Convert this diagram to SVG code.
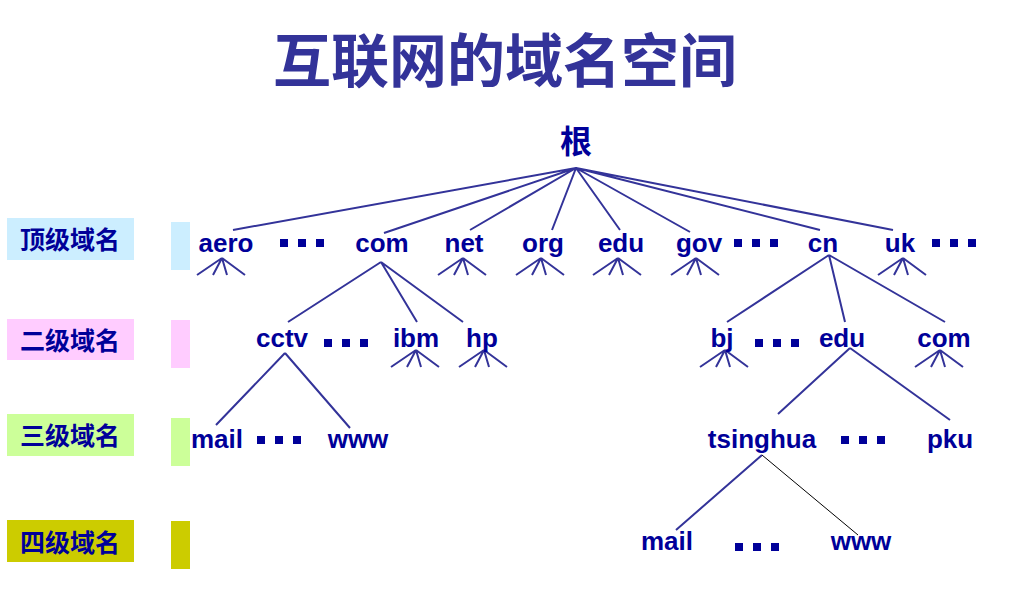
<svg xmlns="http://www.w3.org/2000/svg" width="1021" height="601" viewBox="0 0 1021 601">
<style>
.t{font-family:"Liberation Sans",Arial,sans-serif;font-weight:bold;font-size:26px;fill:#000099;text-anchor:middle}
.c{font-family:"Noto Sans CJK SC",sans-serif;font-weight:bold;font-size:25px;fill:#000099;text-anchor:middle}
.l path{stroke:#333399;stroke-width:2;fill:none}
.d{fill:#000099}
</style>
<defs>
<path id="fan" d="M0,0 L-25,17 M0,0 L-9,17 M0,0 L5,17 M0,0 L23,17" stroke="#333399" stroke-width="2" fill="none"/>
<g id="dots"><rect x="0" y="0" width="8" height="8"/><rect x="18" y="0" width="8" height="8"/><rect x="36" y="0" width="8" height="8"/></g>
</defs>
<rect width="1021" height="601" fill="#fff"/>
<text x="505" y="82" style="font-family:'Noto Sans CJK SC',sans-serif;font-weight:bold;font-size:58px;fill:#333399;text-anchor:middle">互联网的域名空间</text>
<g id="legend">
<rect x="7" y="218" width="127" height="42" fill="#cceeff"/><text class="c" x="70" y="249">顶级域名</text>
<rect x="7" y="319" width="127" height="41" fill="#ffccff"/><text class="c" x="70" y="350">二级域名</text>
<rect x="7" y="414" width="127" height="42" fill="#ccff99"/><text class="c" x="70" y="445">三级域名</text>
<rect x="7" y="520" width="127" height="42" fill="#cccc00"/><text class="c" x="70" y="552">四级域名</text>
<rect x="171" y="222" width="19" height="48" fill="#cceeff"/>
<rect x="171" y="320" width="19" height="48" fill="#ffccff"/>
<rect x="171" y="418" width="19" height="48" fill="#ccff99"/>
<rect x="171" y="521" width="19" height="48" fill="#cccc00"/>
</g>
<g id="connectors" class="l">
<path d="M576,168 L233,230 M576,168 L384,233 M576,168 L470,230 M576,168 L552,230 M576,168 L620,230 M576,168 L690,232 M576,168 L820,230 M576,168 L893,230"/>
<use href="#fan" x="222" y="258"/><use href="#fan" x="463" y="258"/><use href="#fan" x="541" y="258"/><use href="#fan" x="618" y="258"/><use href="#fan" x="696" y="258"/><use href="#fan" x="903" y="258"/>
<use href="#fan" x="416" y="350"/><use href="#fan" x="484" y="350"/><use href="#fan" x="725" y="350"/><use href="#fan" x="940" y="350"/>
<path d="M381,262 L288,322 M381,262 L417,322 M381,262 L463,322 M829,255 L727,322 M829,255 L845,322 M829,255 L945,322 M285,353 L216,425 M285,353 L350,428 M850,348 L778,414 M850,348 L950,420 M762,455 L676,530"/>
<line x1="762" y1="455" x2="858" y2="535" stroke="#000" stroke-width="1"/>
</g>
<g class="d">
<use href="#dots" x="280" y="239"/><use href="#dots" x="734" y="239"/><use href="#dots" x="932" y="239"/>
<use href="#dots" x="324" y="339"/><use href="#dots" x="755" y="339"/>
<use href="#dots" x="257" y="436"/><use href="#dots" x="841" y="436"/>
<use href="#dots" x="735" y="543"/>
</g>
<g id="n-root"><text class="c" x="576" y="153" style="font-size:32px">根</text></g>
<g id="n-aero"><text class="t" x="226" y="252">aero</text></g>
<g id="n-com"><text class="t" x="382" y="252">com</text></g>
<g id="n-net"><text class="t" x="464" y="252">net</text></g>
<g id="n-org"><text class="t" x="543" y="252">org</text></g>
<g id="n-edu"><text class="t" x="621" y="252">edu</text></g>
<g id="n-gov"><text class="t" x="699" y="252">gov</text></g>
<g id="n-cn"><text class="t" x="823" y="252">cn</text></g>
<g id="n-uk"><text class="t" x="900" y="252">uk</text></g>
<g id="n-cctv"><text class="t" x="282" y="347">cctv</text></g>
<g id="n-ibm"><text class="t" x="416" y="347">ibm</text></g>
<g id="n-hp"><text class="t" x="482" y="347">hp</text></g>
<g id="n-bj"><text class="t" x="722" y="347">bj</text></g>
<g id="n-edu2"><text class="t" x="842" y="347">edu</text></g>
<g id="n-com2"><text class="t" x="944" y="347">com</text></g>
<g id="n-mail1"><text class="t" x="217" y="448">mail</text></g>
<g id="n-www1"><text class="t" x="358" y="448">www</text></g>
<g id="n-tsinghua"><text class="t" x="762" y="448">tsinghua</text></g>
<g id="n-pku"><text class="t" x="950" y="448">pku</text></g>
<g id="n-mail2"><text class="t" x="667" y="550">mail</text></g>
<g id="n-www2"><text class="t" x="861" y="550">www</text></g>
</svg>
